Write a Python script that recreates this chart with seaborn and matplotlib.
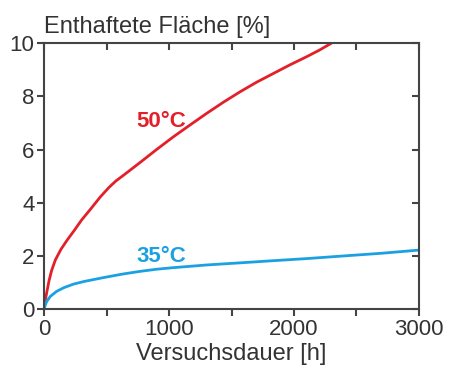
import matplotlib
matplotlib.use("Agg")
import matplotlib.pyplot as plt
import seaborn as sns
import pandas as pd
from matplotlib.ticker import MultipleLocator

hours_50 = [0, 12, 25, 40, 60, 90, 135, 185, 240, 300, 370, 450, 520, 575, 640,
            770, 900, 1035, 1170, 1301, 1435, 1568, 1700, 1835, 1970, 2101, 2200, 2300]
area_50 = [0, 0.4, 0.72, 1.08, 1.45, 1.85, 2.25, 2.6, 2.95, 3.35, 3.75, 4.22, 4.58, 4.82, 5.05,
           5.52, 6.0, 6.48, 6.93, 7.36, 7.78, 8.17, 8.53, 8.86, 9.19, 9.49, 9.73, 10.0]
hours_35 = [0, 10, 21, 50, 101, 160, 235, 320, 480, 630, 768, 900, 1035, 1300, 1568,
            1830, 2101, 2368, 2700, 3000]
area_35 = [0, 0.16, 0.29, 0.48, 0.67, 0.81, 0.94, 1.04, 1.19, 1.32, 1.42, 1.5, 1.56, 1.66, 1.74,
           1.82, 1.9, 1.99, 2.1, 2.22]
series = ["50°C", "35°C"]
colors = {"50°C": "#e3202a", "35°C": "#1ba1e2"}

df = pd.concat([
    pd.DataFrame({"h": hours_50, "v": area_50, "s": series[0]}),
    pd.DataFrame({"h": hours_35, "v": area_35, "s": series[1]}),
])

sns.set_theme(style="ticks")
plt.rcParams["font.family"] = ["Liberation Sans", "DejaVu Sans"]
txt = "#333333"

fig = plt.figure(figsize=(4.5, 3.72), dpi=100)
ax = fig.add_axes([0.098, 0.169, 0.833, 0.715])
sns.lineplot(data=df, x="h", y="v", hue="s", palette=colors, ax=ax,
             legend=False, linewidth=2, sort=False, estimator=None)

ax.set_xlim(0, 3000)
ax.set_ylim(0, 10)
ax.xaxis.set_major_locator(MultipleLocator(1000))
ax.xaxis.set_minor_locator(MultipleLocator(500))
ax.yaxis.set_major_locator(MultipleLocator(2))
for sp in ax.spines.values():
    sp.set_color("#444444")
    sp.set_linewidth(1.5)
ax.tick_params(axis="both", which="major", labelsize=16, colors="#444444",
               labelcolor=txt, length=5, width=1.5, direction="out", pad=2)
ax.tick_params(axis="x", which="minor", length=5, width=1.5, color="#444444", direction="out")
ax.set_xlabel("Versuchsdauer [h]", fontsize=17, color=txt, labelpad=2)
ax.set_ylabel("")

# mirrored inward ticks on top and right
secx = ax.secondary_xaxis("top")
secx.xaxis.set_major_locator(MultipleLocator(500))
secx.tick_params(direction="in", length=5, width=1.5, color="#444444", labeltop=False)
secy = ax.secondary_yaxis("right")
secy.yaxis.set_major_locator(MultipleLocator(2))
secy.tick_params(direction="in", length=5, width=1.5, color="#444444", labelright=False)

ax.text(0.0, 1.02, "Enthaftete Fläche [%]", transform=ax.transAxes,
        fontsize=17, color=txt, ha="left", va="bottom")
ax.text(940, 7.05, "50°C", color=colors["50°C"], fontsize=16, fontweight="bold",
        ha="center", va="center")
ax.text(940, 1.99, "35°C", color=colors["35°C"], fontsize=16, fontweight="bold",
        ha="center", va="center")

fig.savefig("out.png", dpi=100)
